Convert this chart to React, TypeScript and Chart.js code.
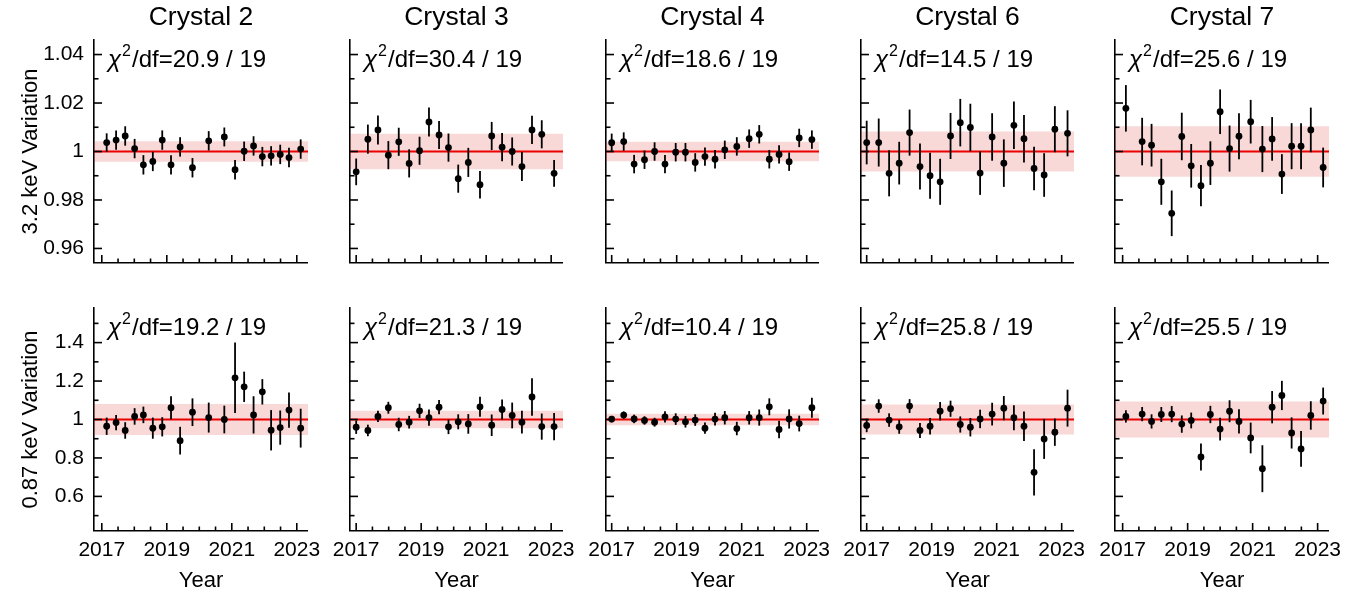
import React, { useEffect, useRef } from 'react';
import { Chart, registerables } from 'chart.js';

Chart.register(...registerables);

const FONT = "'Liberation Sans', Arial, Helvetica, sans-serif";
Chart.defaults.font.family = FONT;
Chart.defaults.color = '#000';

// ---------- text / ticks ----------
const CRYSTAL_NAMES = ['Crystal 2', 'Crystal 3', 'Crystal 4', 'Crystal 6', 'Crystal 7'];
const ROW_TITLES = ['3.2 keV Variation', '0.87 keV Variation'];
const X_TITLE = 'Year';
const X_MAJOR = [2017, 2019, 2021, 2023];
const X_MINOR = [2017.5, 2018, 2018.5, 2019.5, 2020, 2020.5, 2021.5, 2022, 2022.5];
const Y_MAJOR_HI = [0.96, 0.98, 1, 1.02, 1.04];
const Y_MINOR_HI = [0.97, 0.99, 1.01, 1.03];
const Y_MAJOR_LO = [0.6, 0.8, 1, 1.2, 1.4];
const Y_MINOR_LO = [0.5, 0.7, 0.9, 1.1, 1.3, 1.5];
const CHI2_HI = ['20.9', '30.4', '18.6', '14.5', '25.6'];
const CHI2_LO = ['19.2', '21.3', '10.4', '25.8', '25.5'];
const NDF = 19;
const FIT_VALUE = 1;
const BAND_HI = [0.0042, 0.0073, 0.004, 0.0082, 0.0104];
const BAND_LO = [0.08, 0.046, 0.03, 0.078, 0.094];

// ---------- data ----------
const C2_YEARS = [2017.15, 2017.44, 2017.72, 2018.01, 2018.28, 2018.57, 2018.86, 2019.13, 2019.41, 2019.79, 2020.29, 2020.77, 2021.10, 2021.38, 2021.67, 2021.94, 2022.21, 2022.49, 2022.76, 2023.12];
const C3_YEARS = [2017.0, 2017.36, 2017.67, 2017.99, 2018.31, 2018.63, 2018.95, 2019.24, 2019.55, 2019.84, 2020.14, 2020.45, 2020.81, 2021.17, 2021.49, 2021.80, 2022.10, 2022.41, 2022.71, 2023.09];
const C4_YEARS = [2017.0, 2017.37, 2017.69, 2018.01, 2018.32, 2018.64, 2018.97, 2019.27, 2019.57, 2019.87, 2020.18, 2020.48, 2020.85, 2021.23, 2021.54, 2021.85, 2022.15, 2022.46, 2022.77, 2023.16];
const C6_YEARS = [2017.0, 2017.37, 2017.69, 2018.0, 2018.32, 2018.64, 2018.95, 2019.26, 2019.58, 2019.88, 2020.19, 2020.49, 2020.86, 2021.22, 2021.53, 2021.84, 2022.15, 2022.46, 2022.79, 2023.18];
const C7_YEARS = [2017.10, 2017.60, 2017.89, 2018.19, 2018.51, 2018.82, 2019.11, 2019.41, 2019.70, 2020.0, 2020.29, 2020.58, 2020.94, 2021.30, 2021.60, 2021.90, 2022.20, 2022.49, 2022.79, 2023.17];

const C2_HI = [1.0037, 1.0047, 1.0064, 1.0012, 0.9945, 0.9959, 1.0047, 0.9945, 1.0019, 0.9933, 1.0044, 1.0060, 0.9925, 1.0001, 1.0023, 0.9979, 0.9982, 0.9988, 0.9975, 1.0010];
const C2_HI_ERR = [0.0038, 0.004, 0.004, 0.004, 0.004, 0.004, 0.004, 0.004, 0.004, 0.004, 0.004, 0.0039, 0.004, 0.004, 0.004, 0.004, 0.004, 0.004, 0.004, 0.004];
const C3_HI = [0.9916, 1.0051, 1.0089, 0.9985, 1.0040, 0.9951, 1.0003, 1.0122, 1.0068, 1.0016, 0.9888, 0.9955, 0.9863, 1.0064, 1.0018, 1.0000, 0.9938, 1.0089, 1.0071, 0.9910];
const C3_HI_ERR = [0.0055, 0.006, 0.006, 0.0058, 0.0058, 0.0058, 0.0058, 0.006, 0.0058, 0.0058, 0.0058, 0.006, 0.0057, 0.0058, 0.0058, 0.0058, 0.006, 0.0058, 0.0058, 0.0055];
const C4_HI = [1.0036, 1.0041, 0.9948, 0.9966, 1.0000, 0.9948, 0.9997, 0.9997, 0.9955, 0.9979, 0.9968, 1.0007, 1.0021, 1.0053, 1.0071, 0.9968, 0.9988, 0.9958, 1.0056, 1.0049];
const C4_HI_ERR = [0.0038, 0.0038, 0.0038, 0.0038, 0.0038, 0.0038, 0.0038, 0.0038, 0.0038, 0.0038, 0.0038, 0.0038, 0.0038, 0.0038, 0.0038, 0.0038, 0.0038, 0.0038, 0.0038, 0.0038];
const C6_HI = [1.0037, 1.0037, 0.9910, 0.9952, 1.0078, 0.9938, 0.9900, 0.9875, 1.0064, 1.0119, 1.0099, 0.9911, 1.0060, 0.9952, 1.0108, 1.0053, 0.9930, 0.9903, 1.0092, 1.0075];
const C6_HI_ERR = [0.009, 0.0099, 0.0095, 0.0088, 0.0095, 0.0095, 0.0095, 0.0095, 0.0095, 0.0098, 0.0098, 0.009, 0.0098, 0.0098, 0.0098, 0.0098, 0.009, 0.009, 0.0095, 0.0095];
const C7_HI = [1.0178, 1.0041, 1.0026, 0.9875, 0.9745, 1.0062, 0.9941, 0.9859, 0.9952, 1.0164, 1.0012, 1.0063, 1.0123, 1.0010, 1.0052, 0.9907, 1.0022, 1.0022, 1.0089, 0.9934];
const C7_HI_ERR = [0.0096, 0.0098, 0.0088, 0.0095, 0.0094, 0.0098, 0.009, 0.0085, 0.009, 0.0092, 0.0095, 0.0095, 0.009, 0.0095, 0.009, 0.0082, 0.0095, 0.0095, 0.0092, 0.0082];

const C2_LO = [0.965, 0.984, 0.943, 1.016, 1.024, 0.955, 0.962, 1.061, 0.890, 1.038, 1.010, 1.000, 1.217, 1.170, 1.024, 1.144, 0.944, 0.958, 1.049, 0.955];
const C2_LO_ERR = [0.045, 0.04, 0.043, 0.043, 0.043, 0.055, 0.05, 0.06, 0.072, 0.072, 0.078, 0.072, 0.183, 0.079, 0.097, 0.066, 0.105, 0.089, 0.092, 0.101];
const C3_LO = [0.960, 0.943, 1.016, 1.061, 0.974, 0.986, 1.045, 1.010, 1.064, 0.962, 0.988, 0.977, 1.066, 0.970, 1.052, 1.021, 0.986, 1.117, 0.963, 0.963];
const C3_LO_ERR = [0.035, 0.03, 0.029, 0.031, 0.035, 0.033, 0.037, 0.042, 0.037, 0.038, 0.039, 0.051, 0.052, 0.056, 0.052, 0.067, 0.059, 0.097, 0.068, 0.071];
const C4_LO = [1.002, 1.023, 1.003, 0.995, 0.986, 1.014, 1.002, 0.988, 0.997, 0.955, 1.002, 1.009, 0.953, 1.009, 1.010, 1.066, 0.948, 1.003, 0.979, 1.061];
const C4_LO_ERR = [0.017, 0.019, 0.022, 0.022, 0.023, 0.029, 0.03, 0.03, 0.03, 0.029, 0.033, 0.035, 0.035, 0.035, 0.042, 0.044, 0.046, 0.05, 0.041, 0.052];
const C6_LO = [0.969, 1.070, 0.997, 0.962, 1.070, 0.943, 0.965, 1.043, 1.056, 0.974, 0.960, 1.003, 1.028, 1.059, 1.009, 0.965, 0.725, 0.899, 0.934, 1.059];
const C6_LO_ERR = [0.035, 0.035, 0.035, 0.036, 0.036, 0.039, 0.043, 0.048, 0.042, 0.042, 0.048, 0.048, 0.059, 0.063, 0.065, 0.077, 0.12, 0.104, 0.071, 0.096];
const C7_LO = [1.016, 1.028, 0.990, 1.026, 1.028, 0.976, 0.995, 0.805, 1.026, 0.950, 1.043, 0.990, 0.904, 0.744, 1.064, 1.125, 0.930, 0.847, 1.021, 1.096];
const C7_LO_ERR = [0.032, 0.037, 0.037, 0.039, 0.042, 0.045, 0.041, 0.07, 0.045, 0.059, 0.057, 0.063, 0.08, 0.122, 0.084, 0.076, 0.081, 0.093, 0.074, 0.07];

const YEARS = [C2_YEARS, C3_YEARS, C4_YEARS, C6_YEARS, C7_YEARS];
const HI = [C2_HI, C3_HI, C4_HI, C6_HI, C7_HI];
const HI_ERR = [C2_HI_ERR, C3_HI_ERR, C4_HI_ERR, C6_HI_ERR, C7_HI_ERR];
const LO = [C2_LO, C3_LO, C4_LO, C6_LO, C7_LO];
const LO_ERR = [C2_LO_ERR, C3_LO_ERR, C4_LO_ERR, C6_LO_ERR, C7_LO_ERR];

// ---------- axis ranges ----------
const X_MIN = [2016.76, 2016.81, 2016.825, 2016.825, 2016.765];
const X_MAX = [2023.345, 2023.364, 2023.379, 2023.379, 2023.35];
const Y_RANGE_HI = [0.954, 1.046];
const Y_RANGE_LO = [0.42, 1.58];

// ---------- layout / style ----------
const COL_LEFT = [94, 350, 606, 861, 1115];
const COL_RIGHT = [308, 563, 819, 1074, 1329];
const PAD_RIGHT = 26;
const ROWS = [
  { top: 0, h: 290, chartTop: 40, chartBottom: 263 },
  { top: 270, h: 329, chartTop: 308, chartBottom: 531 },
];
const RED = 'rgb(235,0,0)';
const BAND_COLOR = 'rgba(220,40,40,0.18)';
const AXIS_W = 1.6;

function makeDecor(cfg: any) {
  return {
    id: 'decor',
    afterDatasetsDraw(chart: any) {
      const ctx = chart.ctx;
      const xs = chart.scales.x;
      const ys = chart.scales.y;
      const ds = chart.data.datasets[0];
      ctx.save();
      ctx.strokeStyle = '#000';
      ctx.lineWidth = 1.8;
      ds.data.forEach((p: any, i: number) => {
        const px = xs.getPixelForValue(p.x);
        ctx.beginPath();
        ctx.moveTo(px, ys.getPixelForValue(p.y - cfg.err[i]));
        ctx.lineTo(px, ys.getPixelForValue(p.y + cfg.err[i]));
        ctx.stroke();
      });
      ctx.restore();
    },
    afterDraw(chart: any) {
      const ctx = chart.ctx;
      const xs = chart.scales.x;
      const ys = chart.scales.y;
      const a = chart.chartArea;
      ctx.save();
      ctx.strokeStyle = '#000';
      ctx.lineWidth = AXIS_W;
      const tx = (v: number, len: number) => {
        const px = xs.getPixelForValue(v);
        ctx.beginPath();
        ctx.moveTo(px, a.bottom);
        ctx.lineTo(px, a.bottom - len);
        ctx.stroke();
      };
      const ty = (v: number, len: number) => {
        const py = ys.getPixelForValue(v);
        ctx.beginPath();
        ctx.moveTo(a.left, py);
        ctx.lineTo(a.left + len, py);
        ctx.stroke();
      };
      X_MAJOR.forEach((v) => tx(v, 8));
      X_MINOR.forEach((v) => tx(v, 4.5));
      cfg.yMajor.forEach((v: number) => ty(v, 8));
      cfg.yMinor.forEach((v: number) => ty(v, 4.5));

      // chi2 label
      const x0 = a.left + 14;
      const y0 = a.top + 27;
      ctx.fillStyle = '#000';
      ctx.textBaseline = 'alphabetic';
      ctx.textAlign = 'left';
      ctx.font = `italic 24px ${FONT}`;
      ctx.fillText('\u03c7', x0, y0);
      let x = x0 + ctx.measureText('\u03c7').width + 1;
      ctx.font = `16px ${FONT}`;
      ctx.fillText('2', x, y0 - 11);
      x += ctx.measureText('2').width + 1;
      ctx.font = `24px ${FONT}`;
      ctx.fillText(`/df=${cfg.chi} / ${NDF}`, x, y0);
      ctx.restore();
    },
  };
}

function Panel({ row, col }: { row: number; col: number }) {
  const ref = useRef<HTMLCanvasElement>(null);
  const R = ROWS[row];
  const left = col === 0 ? 0 : COL_LEFT[col] - 44;
  const yw = COL_LEFT[col] - left;
  const width = COL_RIGHT[col] + PAD_RIGHT - left;
  const height = R.h;
  const xh = R.h - (R.chartBottom - R.top);

  useEffect(() => {
    const years = YEARS[col];
    const vals = row === 0 ? HI[col] : LO[col];
    const err = row === 0 ? HI_ERR[col] : LO_ERR[col];
    const band = row === 0 ? BAND_HI[col] : BAND_LO[col];
    const yr = row === 0 ? Y_RANGE_HI : Y_RANGE_LO;
    const yMajor = row === 0 ? Y_MAJOR_HI : Y_MAJOR_LO;
    const yMinor = row === 0 ? Y_MINOR_HI : Y_MINOR_LO;
    const chi = row === 0 ? CHI2_HI[col] : CHI2_LO[col];
    const xmin = X_MIN[col];
    const xmax = X_MAX[col];

    const chart = new Chart(ref.current as HTMLCanvasElement, {
      type: 'scatter',
      data: {
        datasets: [
          {
            data: years.map((x, i) => ({ x, y: vals[i] })),
            pointRadius: 3.4,
            pointHoverRadius: 3.4,
            backgroundColor: '#000',
            borderWidth: 0,
            showLine: false,
          } as any,
          {
            type: 'line',
            data: [{ x: xmin, y: FIT_VALUE }, { x: xmax, y: FIT_VALUE }],
            borderColor: RED,
            borderWidth: 2,
            pointRadius: 0,
            fill: false,
          } as any,
          {
            type: 'line',
            data: [{ x: xmin, y: FIT_VALUE + band }, { x: xmax, y: FIT_VALUE + band }],
            borderColor: 'transparent',
            borderWidth: 0,
            pointRadius: 0,
            fill: false,
          } as any,
          {
            type: 'line',
            data: [{ x: xmin, y: FIT_VALUE - band }, { x: xmax, y: FIT_VALUE - band }],
            borderColor: 'transparent',
            borderWidth: 0,
            pointRadius: 0,
            backgroundColor: BAND_COLOR,
            fill: '-1',
          } as any,
        ],
      },
      options: {
        responsive: false,
        animation: false,
        events: [],
        layout: {
          padding: { top: row === 0 ? 0 : R.chartTop - R.top, right: PAD_RIGHT, left: 0, bottom: 0 },
        },
        plugins: {
          legend: { display: false },
          tooltip: { enabled: false },
          title: {
            display: row === 0,
            text: CRYSTAL_NAMES[col],
            fullSize: false,
            color: '#000',
            font: { size: 26.5, weight: 'normal', family: FONT, lineHeight: 1.2 },
            padding: { top: 2, bottom: 6.2 },
          },
        },
        scales: {
          x: {
            type: 'linear',
            min: xmin,
            max: xmax,
            afterBuildTicks: (s: any) => {
              s.ticks = X_MAJOR.map((v) => ({ value: v }));
            },
            afterFit: (s: any) => {
              s.height = xh;
            },
            grid: { display: true, drawOnChartArea: false, drawTicks: false, lineWidth: 0 },
            border: { display: true, color: '#000', width: AXIS_W },
            ticks: {
              display: row === 1,
              padding: 7,
              color: '#000',
              font: { size: 21, family: FONT },
              maxRotation: 0,
              autoSkip: false,
              callback: (v: any) => String(v),
            },
            title: {
              display: row === 1,
              text: X_TITLE,
              color: '#000',
              font: { size: 22, family: FONT },
              padding: { top: 0, bottom: 5 },
            },
          },
          y: {
            type: 'linear',
            min: yr[0],
            max: yr[1],
            afterBuildTicks: (s: any) => {
              s.ticks = yMajor.map((v) => ({ value: v }));
            },
            afterFit: (s: any) => {
              s.width = yw;
            },
            grid: { display: true, drawOnChartArea: false, drawTicks: false, lineWidth: 0 },
            border: { display: true, color: '#000', width: AXIS_W },
            ticks: {
              display: col === 0,
              padding: 10,
              color: '#000',
              font: { size: 21, family: FONT },
              autoSkip: false,
              callback: (v: any) => String(parseFloat(Number(v).toFixed(2))),
            },
            title: {
              display: col === 0,
              text: ROW_TITLES[row],
              color: '#000',
              font: { size: 22, family: FONT },
              padding: { top: 18, bottom: 0 },
            },
          },
        },
      } as any,
      plugins: [makeDecor({ err, yMajor, yMinor, chi })],
    });
    return () => chart.destroy();
  }, [row, col]);

  return (
    <canvas
      ref={ref}
      width={width}
      height={height}
      style={{ position: 'absolute', left, top: R.top, width, height }}
    />
  );
}

export default function App() {
  const panels = [];
  for (let r = 0; r < 2; r++) {
    for (let c = 0; c < 5; c++) {
      panels.push(<Panel key={`${r}-${c}`} row={r} col={c} />);
    }
  }
  return (
    <div
      style={{
        position: 'absolute',
        left: 0,
        top: 0,
        width: 1369,
        height: 599,
        background: '#fff',
        overflow: 'hidden',
      }}
    >
      {panels}
    </div>
  );
}
